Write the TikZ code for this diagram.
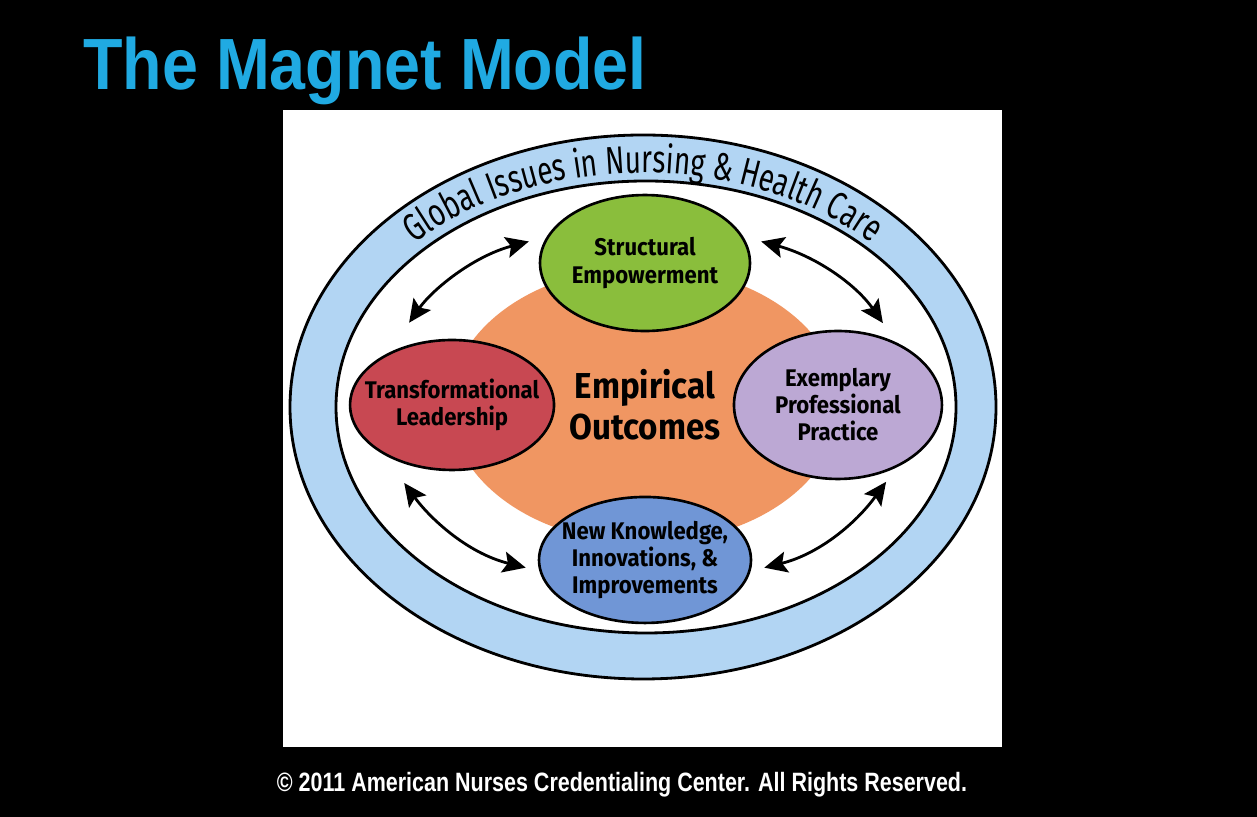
\documentclass[tikz,border=0pt]{standalone}
\usepackage{fontspec}
\usetikzlibrary{shapes.geometric,arrows.meta,positioning,decorations.text}
\newfontfamily\titlefont{Liberation Sans}[FakeStretch=0.89]
\newfontfamily\notefont{Liberation Sans}[FakeStretch=0.81]
\newfontfamily\pillarfont{Fira Sans}[FakeStretch=0.92]
\newfontfamily\bandfont{Fira Sans}[FakeStretch=0.72]
\definecolor{titleblue}{RGB}{32,170,226}
\definecolor{bandblue}{RGB}{178,213,243}
\definecolor{eoorange}{RGB}{240,150,98}
\definecolor{segreen}{RGB}{138,190,60}
\definecolor{tlred}{RGB}{200,72,82}
\definecolor{eppurple}{RGB}{188,168,212}
\definecolor{nkblue}{RGB}{112,150,214}

\begin{document}
\begin{tikzpicture}[x=0.02cm,y=0.02cm,on grid,
   pillar/.style={ellipse,draw,line width=1.5pt,inner sep=0pt},
   ptext/.style={align=center,inner sep=0pt,font=\pillarfont\bfseries\fontsize{13.7pt}{15.4pt}\selectfont},
   link/.style={<->,>={Stealth[length=13pt,width=12pt,inset=2.5pt]},line width=1.6pt}]
   \fill[black] (0,0) rectangle (1257,817);
   \useasboundingbox (0,0) rectangle (1257,817);

   \node[anchor=base west,inner sep=0pt,text=titleblue,font=\titlefont\bfseries\fontsize{41.3pt}{44pt}\selectfont] (title) at (83,727) {The Magnet Model};
   \fill[white] (283,70) rectangle (1002,707);

   % ring
   \draw[line width=1.6pt,fill=bandblue] (643,410) ellipse [x radius=353, y radius=272];
   \draw[line width=1.6pt,fill=white] (646,410) ellipse [x radius=310, y radius=226];
   \path[decorate,decoration={text along path,text align=center,
      text={|\bandfont\fontsize{22pt}{24pt}\selectfont|Global Issues in Nursing {\&} Health Care}}]
      ([shift={(160:320 and 234)}]643,410) arc[start angle=160,end angle=20,x radius=320,y radius=234];

   \node[ellipse,fill=eoorange,inner sep=0pt,minimum width=7.8cm,minimum height=5.52cm,align=center,
      font=\pillarfont\bfseries\fontsize{20.5pt}{23.3pt}\selectfont] (eo) at (645,412) {Empirical\\Outcomes};

   \node[pillar,fill=segreen,minimum width=4.2cm,minimum height=2.72cm,
      label={[ptext]center:{Structural\\Empowerment}}] (se) [above=2.84cm of eo] {};
   \node[pillar,fill=tlred,minimum width=4.08cm,minimum height=2.6cm,
      label={[ptext]center:{Transformational\\Leadership}}] (tl) [left=3.86cm of eo] {};
   \node[pillar,fill=eppurple,minimum width=4.16cm,minimum height=2.96cm,
      label={[ptext]center:{Exemplary\\Professional\\Practice}}] (ep) [right=3.86cm of eo] {};
   \node[pillar,fill=nkblue,minimum width=4.24cm,minimum height=2.52cm,
      label={[ptext]center:{New Knowledge,\\Innovations, \&\\Improvements}}] (nk) [below=3.1cm of eo] {};

   \path[link]
   (tl.141) edge[out=55,in=195,shorten <=0.74cm,shorten >=0.37cm] (se.165)
   (ep.47)  edge[out=125,in=-15,shorten <=0.47cm,shorten >=0.37cm] (se.15)
   (tl.216) edge[out=-54,in=166,shorten <=0.7cm,shorten >=0.28cm] (nk.186)
   (ep.313) edge[out=234,in=14,shorten <=0.35cm,shorten >=0.28cm] (nk.354);

   \node[anchor=base,inner sep=0pt,text=white,font=\notefont\bfseries\fontsize{15.1pt}{17pt}\selectfont] (copy) at (622,25)
      {© 2011 American Nurses Credentialing Center. All Rights Reserved.};
\end{tikzpicture}
\end{document}
